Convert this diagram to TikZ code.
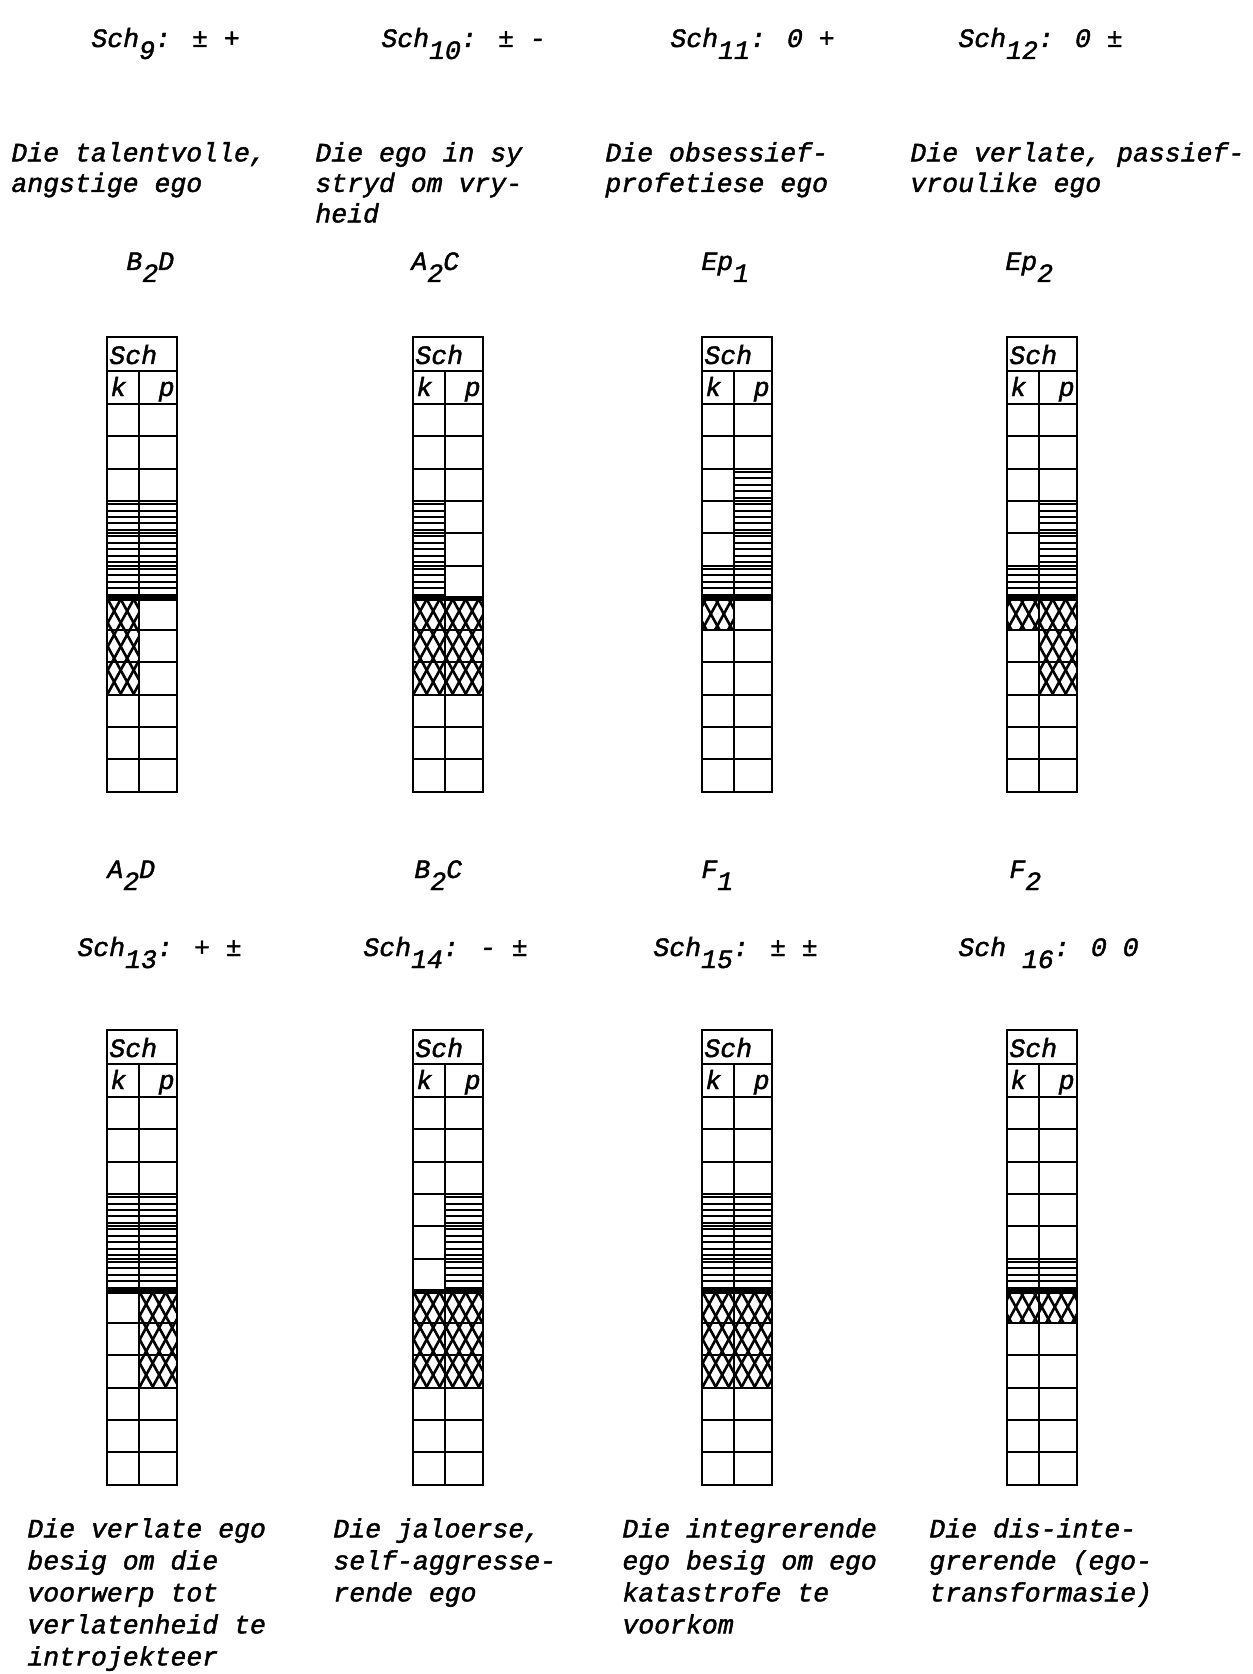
\documentclass[tikz,border=0pt]{standalone}
\usepackage{fontspec}
\newfontfamily\tw[FakeBold=1.6]{Liberation Mono}
\newcommand\lo[1]{\raisebox{-6pt}{#1}}
\tikzset{
  txt/.style={font=\tw\itshape\fontsize{13.25}{15.25}\selectfont, inner sep=0pt, anchor=base west},
  desc/.style={font=\tw\itshape\fontsize{13.25}{15.25}\selectfont, inner sep=0pt, anchor=north west, align=left},
  descb/.style={font=\tw\itshape\fontsize{13.25}{16}\selectfont, inner sep=0pt, anchor=north west, align=left},
  gridline/.style={line width=1pt},
  midline/.style={line width=2.5pt},
  hline/.style={line width=0.9pt},
  xline/.style={line width=1.3pt},
}
% grid: #1 left x, #2 top y, #3 name
\newcommand\schgrid[3]{%
  \pgfmathsetmacro\sgR{#1+70}%
  \pgfmathsetmacro\sgM{#1+32}%
  \pgfmathsetmacro\sgA{#2+34}%
  \pgfmathsetmacro\sgZ{round(#2+67+32.3*12)}%
  \draw[gridline] (#1,#2) rectangle (\sgR,\sgZ);
  \draw[gridline] (#1,\sgA) -- (\sgR,\sgA);
  \draw[gridline] (\sgM,\sgA) -- (\sgM,\sgZ);
  \foreach \i in {0,...,11} \draw[gridline] (#1,{round(#2+67+32.3*\i)}) -- (\sgR,{round(#2+67+32.3*\i)});
  \draw[midline] (#1,{round(#2+67+32.3*6)}) -- (\sgR,{round(#2+67+32.3*6)});
  \node[txt] (#3-sch) at ({#1+2},{#2+27}) {Sch};
  \node[txt] (#3-k) at ({#1+3},{#2+59}) {k};
  \node[txt, anchor=base east] (#3-p) at ({#1+68},{#2+59}) {p};
}
% horizontal hatching: #1 x1, #2 x2, #3 grid top, #4 first row, #5 last row
\newcommand\hatchH[5]{%
  \pgfmathsetmacro\hA{#3+67+32.3*(#4-1)}%
  \pgfmathtruncatemacro\hN{5*(#5-#4+1)-1}%
  \foreach \k in {0,...,\hN} \draw[hline] (#1,{round(\hA+3.2+6.46*\k)}) -- (#2,{round(\hA+3.2+6.46*\k)});
}
% cross hatching
\newcommand\hatchX[5]{%
  \pgfmathsetmacro\hA{round(#3+67+32.3*(#4-1))}%
  \pgfmathsetmacro\hB{round(#3+67+32.3*#5)}%
  \pgfmathsetmacro\hD{0.55*(\hB-\hA)}%
  \begin{scope}
    \clip (#1,\hA) rectangle (#2,\hB);
    \foreach \s in {-130,-117,...,91} {
      \draw[xline] ({#1+\s},\hB) -- ({#1+\s+\hD},\hA);
      \draw[xline] ({#1+\s},\hA) -- ({#1+\s+\hD},\hB);
    }
  \end{scope}
}
\begin{document}
\begin{tikzpicture}[x=0.5pt,y=-0.5pt]
\useasboundingbox (0,0) rectangle (1252,1674);

% ---------- top row labels ----------
\node[txt] (h9)  at (91,47)  {Sch\lo{9}: ± +};
\node[txt] (h10) at (381,47) {Sch\lo{10}: ± -};
\node[txt] (h11) at (670,47) {Sch\lo{11}: 0 +};
\node[txt] (h12) at (958,47) {Sch\lo{12}: 0 ±};

\node[desc] (d9)  at (11,139)  {\rule{0pt}{11pt}Die talentvolle,\\angstige ego};
\node[desc] (d10) at (315,139) {\rule{0pt}{11pt}Die ego in sy\\stryd om vry-\\heid};
\node[desc] (d11) at (605,139) {\rule{0pt}{11pt}Die obsessief-\\profetiese ego};
\node[desc] (d12) at (910,139) {\rule{0pt}{11pt}Die verlate, passief-\\vroulike ego};

\node[txt] (c9)  at (126,270)  {B\lo{2}D};
\node[txt] (c10) at (411,270)  {A\lo{2}C};
\node[txt] (c11) at (701,270)  {Ep\lo{1}};
\node[txt] (c12) at (1005,270) {Ep\lo{2}};

% ---------- top row hatching ----------
% Sch9
\hatchH{107}{177}{337}{4}{6}
\hatchX{107}{139}{337}{7}{9}
% Sch10
\hatchH{413}{445}{337}{4}{6}
\hatchX{413}{483}{337}{7}{9}
% Sch11
\hatchH{734}{772}{337}{3}{6}
\hatchH{702}{734}{337}{6}{6}
\hatchX{702}{734}{337}{7}{7}
% Sch12
\hatchH{1039}{1077}{337}{4}{6}
\hatchH{1007}{1039}{337}{6}{6}
\hatchX{1007}{1039}{337}{7}{7}
\hatchX{1039}{1077}{337}{7}{9}

\schgrid{107}{337}{g9}
\schgrid{413}{337}{g10}
\schgrid{702}{337}{g11}
\schgrid{1007}{337}{g12}

% ---------- bottom row labels ----------
\node[txt] (c13) at (107,878)  {A\lo{2}D};
\node[txt] (c14) at (414,878)  {B\lo{2}C};
\node[txt] (c15) at (701,878)  {F\lo{1}};
\node[txt] (c16) at (1009,878) {F\lo{2}};

\node[txt] (h13) at (77,956)  {Sch\lo{13}: + ±};
\node[txt] (h14) at (363,956) {Sch\lo{14}: - ±};
\node[txt] (h15) at (653,956) {Sch\lo{15}: ± ±};
\node[txt] (h16) at (958,956) {Sch \lo{16}: 0 0};

% ---------- bottom row hatching ----------
% Sch13
\hatchH{107}{177}{1030}{4}{6}
\hatchX{139}{177}{1030}{7}{9}
% Sch14
\hatchH{445}{483}{1030}{4}{6}
\hatchX{413}{483}{1030}{7}{9}
% Sch15
\hatchH{702}{772}{1030}{4}{6}
\hatchX{702}{772}{1030}{7}{9}
% Sch16
\hatchH{1007}{1077}{1030}{6}{6}
\hatchX{1007}{1077}{1030}{7}{7}

\schgrid{107}{1030}{g13}
\schgrid{413}{1030}{g14}
\schgrid{702}{1030}{g15}
\schgrid{1007}{1030}{g16}

\node[descb] (d13) at (27,1515)  {\rule{0pt}{11pt}Die verlate ego\\besig om die\\voorwerp tot\\verlatenheid te\\introjekteer};
\node[descb] (d14) at (333,1515) {\rule{0pt}{11pt}Die jaloerse,\\self-aggresse-\\rende ego};
\node[descb] (d15) at (622,1515) {\rule{0pt}{11pt}Die integrerende\\ego besig om ego\\katastrofe te\\voorkom};
\node[descb] (d16) at (929,1515) {\rule{0pt}{11pt}Die dis-inte-\\grerende (ego-\\transformasie)};
\end{tikzpicture}
\end{document}
